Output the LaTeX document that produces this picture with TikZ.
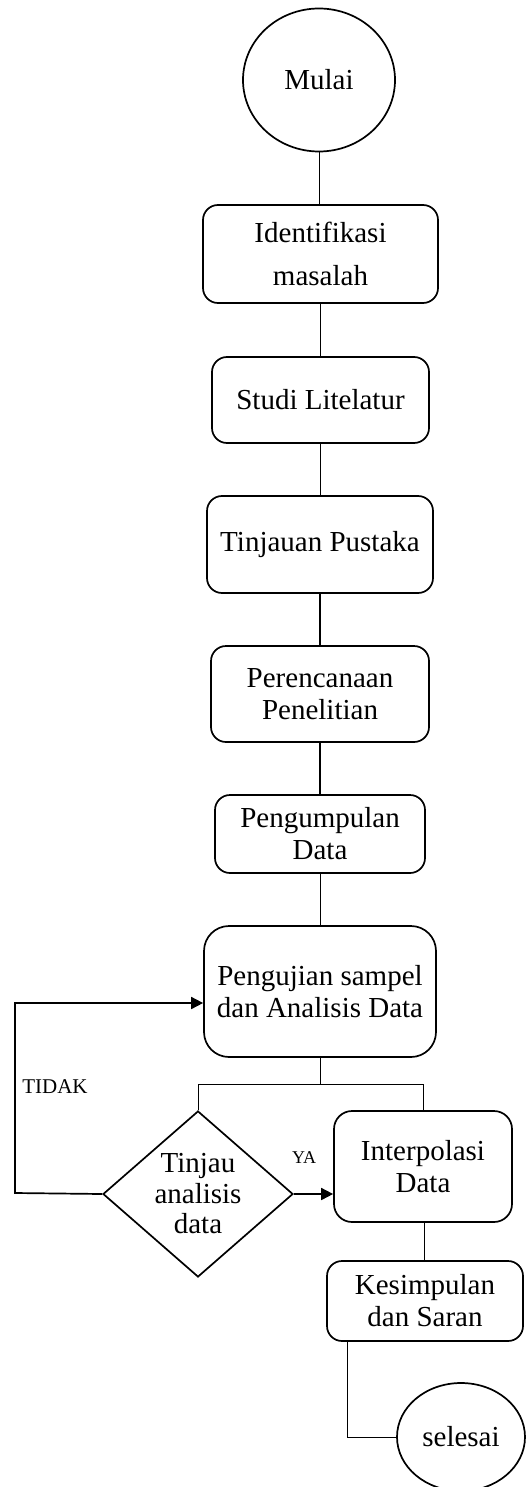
\documentclass[tikz,border=0pt]{standalone}
\usepackage{fontspec}
\setmainfont{Liberation Serif}
\usetikzlibrary{shapes.geometric,arrows.meta}
\begin{document}
\begin{tikzpicture}[x=1pt,y=-1pt,
  box/.style={draw, line width=1.7pt, rounded corners=15pt, inner sep=0pt, align=center,
    font=\fontsize{29}{32}\selectfont},
  oval/.style={draw, line width=1.7pt, ellipse, inner sep=0pt, font=\fontsize{29}{32}\selectfont},
  thin/.style={line width=1pt},
  thk/.style={line width=1.7pt},
  arr/.style={line width=1.7pt, -{Triangle[length=12pt,width=12pt]}},
  lbl/.style={inner sep=0pt, font=\fontsize{#1}{#1}\selectfont}
]
\useasboundingbox (0,0) rectangle (526,1487);
\node[oval, minimum width=152pt, minimum height=143pt] (mulai) at (319,80) {Mulai};
\node[box, minimum width=235pt, minimum height=98pt] (ident) at (320.5,254) {Identifikasi\\[11pt]masalah};
\node[box, minimum width=217pt, minimum height=86pt] (studi) at (320.5,400) {Studi Litelatur};
\node[box, minimum width=226pt, minimum height=97pt] (tinj) at (320,544.5) {Tinjauan Pustaka};
\node[box, minimum width=218pt, minimum height=96pt] (peren) at (320,694) {Perencanaan\\Penelitian};
\node[box, minimum width=210pt, minimum height=78pt] (pengum) at (320,834) {Pengumpulan\\Data};
\node[box, rounded corners=25pt, minimum width=232pt, minimum height=131pt] (penguj) at (320,991.5) {Pengujian sampel\\dan Analisis Data};
\node[draw, line width=1.7pt, diamond, inner sep=0pt, minimum width=190pt, minimum height=166pt,
  label={[align=center, inner sep=0pt, font=\fontsize{29}{30.5}\selectfont]center:Tinjau\\analisis\\data}] (diam) at (198,1194) {};
\node[box, rounded corners=18pt, minimum width=178pt, minimum height=111pt] (interp) at (423,1166.5) {Interpolasi\\Data};
\node[box, minimum width=196pt, minimum height=80pt] (kesim) at (425,1301) {Kesimpulan\\dan Saran};
\node[oval, minimum width=128pt, minimum height=108pt] (selesai) at (461,1437) {selesai};
\node[lbl=21] (tidak) at (55,1087) {TIDAK};
\node[lbl=18] (ya) at (304,1158) {YA};

\coordinate (split) at (320,1084);
\coordinate (lb) at (15,1193);
\coordinate (lt) at (15,1003);
\coordinate (kc) at (347,1437);

\draw[thin] (mulai.south) -- (mulai.south |- ident.north);
\draw[thin] (ident.south) -- (ident.south |- studi.north);
\draw[thk] (studi.south) -- (studi.south |- tinj.north);
\draw[thk] (tinj.south) -- (tinj.south |- peren.north);
\draw[thk] (peren.south) -- (peren.south |- pengum.north);
\draw[thin] (pengum.south) -- (pengum.south |- penguj.north);
\draw[thin] (penguj.south) -- (split);
\draw[thin] (diam.north) -- (diam.north |- split) -- (split) -- (interp.north |- split) -- (interp.north);
\draw[arr] (diam.east) -- (interp.west |- diam.east);
\draw[arr] (diam.west) -- (lb) -- (lt) -- (penguj.west |- lt);
\draw[thin] (424,1222) -- (424,1261);
\draw[thin] (kesim.south -| kc) -- (kc) -- (selesai.west);
\end{tikzpicture}
\end{document}
